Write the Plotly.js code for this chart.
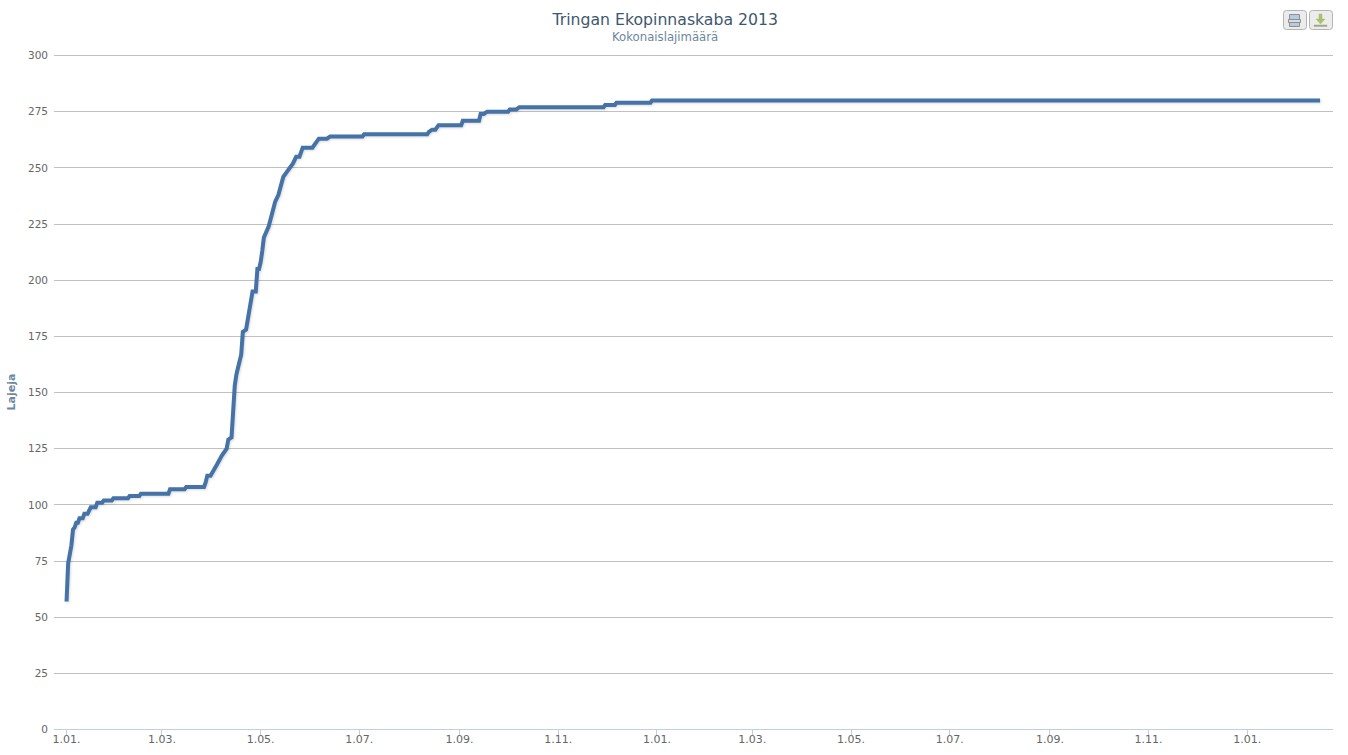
<!DOCTYPE html>
<html><head><meta charset="utf-8">
<script src="https://cdn.plot.ly/plotly-3.0.1.min.js"></script>
<style>html,body{margin:0;padding:0;background:#fff;overflow:hidden}#c{width:1348px;height:755px}
.scatterlayer .js-line{filter:drop-shadow(1px 1px 1px rgba(0,0,0,.14))}</style>
</head><body><div id="c"></div>
<script>
// Days since 1 Jan 2013 and the cumulative species count
const startDate = Date.UTC(2013, 0, 1);
const dayOffsets = [0,1,2,3,4,5,6,7,8,10,11,13,15,18,19,22,23,28,29,38,39,45,46,63,64,73,74,85,86,87,89,91,93,96,99,100,102,104,105,108,109,111,112,114,115,117,118,119,120,121,122,125,127,129,131,133,134,137,140,142,144,146,152,154,156,161,163,183,184,223,224,226,228,230,244,245,255,256,258,260,273,274,278,280,332,333,339,340,361,362,775];
const speciesCounts = [57,74,78,82,89,90,92,92,94,94,96,96,99,99,101,101,102,102,103,103,104,104,105,105,107,107,108,108,110,113,113,116,118,122,125,129,130,153,158,167,177,178,182,192,195,195,205,205,208,213,219,224,230,235,238,243,246,249,252,255,255,259,259,261,263,263,264,264,265,265,266,267,267,269,269,271,271,274,274,275,275,276,276,277,277,278,278,279,279,280,280];
const xTickDates = ['2013-01-01','2013-03-01','2013-05-01','2013-07-01','2013-09-01','2013-11-01','2014-01-01','2014-03-01','2014-05-01','2014-07-01','2014-09-01','2014-11-01','2015-01-01'];
const xTickLabels = ['1.01.','1.03.','1.05.','1.07.','1.09.','1.11.','1.01.','1.03.','1.05.','1.07.','1.09.','1.11.','1.01.'];
const yTicks = [0,25,50,75,100,125,150,175,200,225,250,275,300];
const titleText = 'Tringan Ekopinnaskaba 2013';
const subtitleText = 'Kokonaislajimäärä';
const yTitle = 'Lajeja';

const dates = dayOffsets.map(d => new Date(startDate + d*864e5).toISOString().slice(0,10));
const font = 'DejaVu Sans, sans-serif';
const L=54,R=1333,T=54,B=730;
const px = x => (x-L)/(R-L), py = y => (B-y)/(B-T);
function rr(x0,y0,x1,y1,r){return `M${px(x0+r)},${py(y0)}L${px(x1-r)},${py(y0)}Q${px(x1)},${py(y0)} ${px(x1)},${py(y0+r)}L${px(x1)},${py(y1-r)}Q${px(x1)},${py(y1)} ${px(x1-r)},${py(y1)}L${px(x0+r)},${py(y1)}Q${px(x0)},${py(y1)} ${px(x0)},${py(y1-r)}L${px(x0)},${py(y0+r)}Q${px(x0)},${py(y0)} ${px(x0+r)},${py(y0)}Z`;}
function poly(p){return 'M'+p.map(a=>px(a[0])+','+py(a[1])).join('L')+'Z';}
const sh=(path,fill,line,w)=>({type:'path',xref:'paper',yref:'paper',path,fillcolor:fill,line:{color:line||'rgba(0,0,0,0)',width:w||0},layer:'above'});
const shapes=[
 sh(rr(1283.5,10.5,1306.5,29.5,3),'#ececec','#b4b4b4',1),
 sh(rr(1309.5,10.5,1332.5,29.5,3),'#ececec','#b4b4b4',1),
 sh(poly([[1289.5,14.5],[1299.5,14.5],[1299.5,19.5],[1289.5,19.5]]),'#b4cbe4','#8f8f8f',1),
 sh(poly([[1288.5,19.5],[1300.5,19.5],[1300.5,22.5],[1288.5,22.5]]),'#dcdcdc','#8f8f8f',1),
 sh(poly([[1289.5,22.5],[1299.5,22.5],[1299.5,26.5],[1289.5,26.5]]),'#b4cbe4','#8f8f8f',1),
 sh(poly([[1319,14],[1322,14],[1322,19],[1325,19],[1320.5,24],[1316,19],[1319,19]]),'#a8c070','#a8c070',0.5),
 sh(poly([[1314,25],[1327,25],[1327,26.5],[1314,26.5]]),'#a0a888','#a0a888',0.5)
];
const trace={type:'scatter',mode:'lines',x:dates,y:speciesCounts,line:{color:'#4572A7',width:4,shape:'linear'},hoverinfo:'x+y',showlegend:false};
const layout={
 width:1348,height:755,autosize:false,paper_bgcolor:'#fff',plot_bgcolor:'#fff',
 margin:{l:L,r:1348-R,t:T,b:755-B,pad:0},showlegend:false,shapes,
 font:{family:font,size:11,color:'#666'},
 xaxis:{type:'date',range:['2012-12-24 06:00','2015-02-23'],tickmode:'array',tickvals:xTickDates,ticktext:xTickLabels,
  anchor:'free',position:0.00148,
  showgrid:false,zeroline:false,showline:true,linecolor:'#C0D0E0',linewidth:1,ticks:'outside',ticklen:5,tickwidth:1,tickcolor:'#C0D0E0',
  ticklabelstandoff:-5,tickfont:{family:font,size:11,color:'#666'},fixedrange:true},
 yaxis:{range:[-0.2,300.69],tickmode:'array',tickvals:yTicks,showgrid:true,gridcolor:'#C0C0C0',gridwidth:1,zeroline:false,ticks:'',showline:false,
  ticklabelstandoff:5,tickfont:{family:font,size:10.5,color:'#666'},fixedrange:true,automargin:false,
  title:{text:yTitle,standoff:10,font:{family:font,size:11,color:'#6D869F',weight:'bold'}}},
 title:{text:titleText,x:0.4935,xanchor:'center',y:0.9745,yanchor:'middle',pad:{t:0},font:{family:font,size:15.7,color:'#3E576F'}},
 annotations:[{xref:'paper',yref:'paper',x:px(665),y:py(36.5),text:subtitleText,showarrow:false,xanchor:'center',yanchor:'middle',font:{family:font,size:11.7,color:'#6D869F'}}]
};
Plotly.newPlot('c',[trace],layout,{displayModeBar:false,staticPlot:true});
</script></body></html>
